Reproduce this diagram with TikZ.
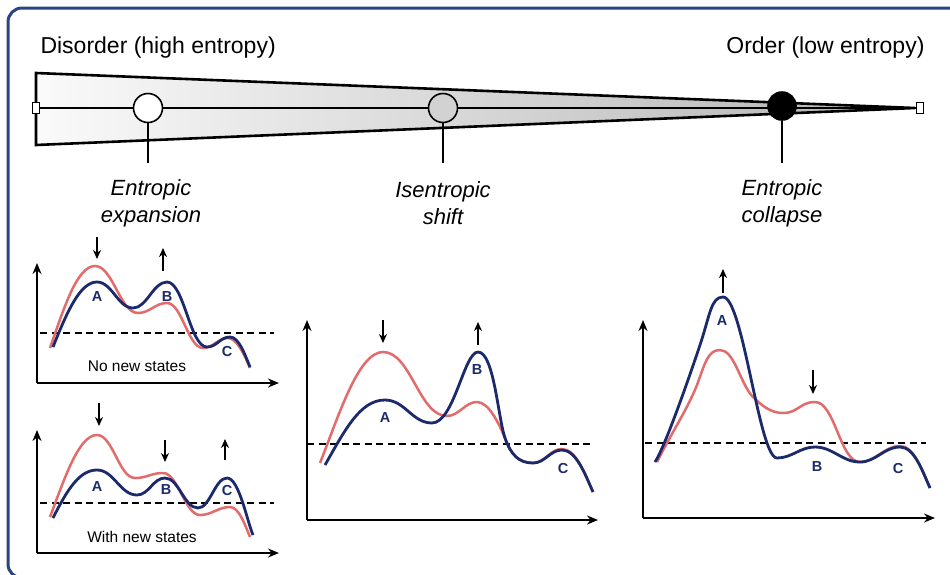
\documentclass[tikz,border=0pt]{standalone}
\usepackage{fontspec}
\setmainfont{Liberation Sans}
\usetikzlibrary{arrows.meta}
\definecolor{navy}{HTML}{1B2A6B}
\definecolor{pinkred}{HTML}{E26B6B}
\definecolor{frameblue}{HTML}{2A4580}
\begin{document}
\begin{tikzpicture}[x=1pt,y=-1pt,
  axisline/.style={line width=2.2pt,-{Stealth[length=11pt,width=9pt]}},
  thr/.style={line width=2.4pt,dash pattern=on 7pt off 4.5pt},
  redc/.style={pinkred,line width=2.5pt},
  bluec/.style={navy,line width=2.8pt},
  smallarrow/.style={line width=1.9pt,-{Stealth[length=9pt,width=8pt]}},
  peaklab/.style={navy,font=\fontsize{14.5}{16}\selectfont\bfseries},
  caption/.style={font=\fontsize{15.5}{18}\selectfont},
  stage/.style={font=\fontsize{22}{27}\selectfont\itshape,align=center},
  title/.style={font=\fontsize{23}{27}\selectfont},
  endsq/.style={draw,fill=white,line width=1pt,minimum width=7pt,minimum height=11pt,inner sep=0pt},
  ball/.style={circle,draw,line width=1.6pt,minimum size=29pt,inner sep=0pt}]
\useasboundingbox (0,0) rectangle (950,574);
\fill[white] (0,0) rectangle (950,574);
\draw[frameblue,line width=3pt,rounded corners=14pt] (8,8) rectangle (1000,578);

% titles
\node[title,anchor=west] (dis) at (37,48) {Disorder (high entropy)};
\node[title,anchor=east] (ord) at (928,48) {Order (low entropy)};

% wedge
\shade[left color=gray!4,right color=gray!60] (36,73) -- (915,108) -- (36,145) -- cycle;
\draw[line width=2.6pt,line join=miter] (36,73) -- (915,108) -- (36,145) -- cycle;
\node[endsq] (sqL) at (36,108) {};
\node[endsq] (sqR) at (920,108) {};
\draw[line width=1.6pt] (sqL) -- (sqR);
\node[ball,fill=white] (c1) at (148,108) {};
\node[ball,fill=gray!35] (c2) at (443,108) {};
\node[ball,fill=black,minimum size=28pt] (c3) at (782,106) {};
\coordinate (l1) at (148,163);
\coordinate (l2) at (443,163);
\coordinate (l3) at (782,163);
\draw[line width=1.6pt] (c1) -- (l1);
\draw[line width=1.6pt] (c2) -- (l2);
\draw[line width=1.6pt] (c3) -- (l3);
\node[stage] (s1) at (151,203) {Entropic\\expansion};
\node[stage] (s2) at (443,203) {Isentropic\\shift};
\node[stage] (s3) at (782,203) {Entropic\\collapse};

% ---------- plot 1 ----------
\coordinate (o1) at (37,383); \coordinate (y1) at (37,263); \coordinate (x1) at (279,383);
\draw[axisline] (o1) -- (y1);
\draw[axisline] (o1) -- (x1);
\coordinate (d1a) at (40,333); \coordinate (d1b) at (274,333);
\draw[thr] (d1a) -- (d1b);
\draw[redc] (50,348) .. controls +(14,-40) and +(-18,0) .. (95,266)
  .. controls +(18,0) and +(-18,0) .. (138,313)
  .. controls +(12,0) and +(-12,0) .. (167,303)
  .. controls +(15,0) and +(-15,0) .. (203,348)
  .. controls +(10,0) and +(-10,0) .. (228,338)
  .. controls +(9,0) and +(-5,-12) .. (250,368);
\draw[bluec] (53,347) .. controls +(14,-35) and +(-17,0) .. (97,282)
  .. controls +(15,0) and +(-15,0) .. (133,308)
  .. controls +(14,0) and +(-14,0) .. (167,282)
  .. controls +(17,0) and +(-17,0) .. (207,347)
  .. controls +(10,0) and +(-10,0) .. (230,337)
  .. controls +(9,0) and +(-5,-12) .. (250,367);
\node[peaklab] (p1A) at (97,297) {A};
\node[peaklab] (p1B) at (167,297) {B};
\node[peaklab] (p1C) at (227,351) {C};
\node[caption] (cap1) at (137,366) {No new states};
\coordinate (a1s) at (97,237); \coordinate (a1e) at (97,259);
\draw[smallarrow] (a1s) -- (a1e);
\coordinate (b1s) at (163,271); \coordinate (b1e) at (163,248);
\draw[smallarrow] (b1s) -- (b1e);

% ---------- plot 2 ----------
\coordinate (o2) at (37,553); \coordinate (y2) at (37,430); \coordinate (x2) at (279,553);
\draw[axisline] (o2) -- (y2);
\draw[axisline] (o2) -- (x2);
\coordinate (d2a) at (40,503); \coordinate (d2b) at (274,503);
\draw[thr] (d2a) -- (d2b);
\draw[redc] (50,517) .. controls +(15,-40) and +(-18,0) .. (97,435)
  .. controls +(16,0) and +(-16,0) .. (135,478)
  .. controls +(12,0) and +(-12,0) .. (163,473)
  .. controls +(15,0) and +(-15,0) .. (200,515)
  .. controls +(12,0) and +(-12,0) .. (230,507)
  .. controls +(9,0) and +(-5,-12) .. (250,537);
\draw[bluec] (53,518) .. controls +(15,-30) and +(-17,0) .. (97,470)
  .. controls +(17,0) and +(-17,0) .. (137,495)
  .. controls +(12,0) and +(-12,0) .. (165,478)
  .. controls +(14,0) and +(-14,0) .. (198,508)
  .. controls +(12,0) and +(-12,0) .. (227,478)
  .. controls +(12,0) and +(-6,-14) .. (253,535);
\node[peaklab] (p2A) at (97,487) {A};
\node[peaklab] (p2B) at (166,490) {B};
\node[peaklab] (p2C) at (227,490) {C};
\node[caption] (cap2) at (142,537) {With new states};
\coordinate (a2s) at (99,403); \coordinate (a2e) at (99,426);
\draw[smallarrow] (a2s) -- (a2e);
\coordinate (b2s) at (165,440); \coordinate (b2e) at (165,462);
\draw[smallarrow] (b2s) -- (b2e);
\coordinate (c2s) at (225,460); \coordinate (c2e) at (225,439);
\draw[smallarrow] (c2s) -- (c2e);

% ---------- plot 3 ----------
\coordinate (o3) at (307,520); \coordinate (y3) at (307,320); \coordinate (x3) at (598,520);
\draw[axisline] (o3) -- (y3);
\draw[axisline] (o3) -- (x3);
\coordinate (d3a) at (307,444); \coordinate (d3b) at (590,444);
\draw[thr] (d3a) -- (d3b);
\draw[redc] (320,463) .. controls +(18,-45) and +(-25,0) .. (383,352)
  .. controls +(28,0) and +(-28,0) .. (447,416)
  .. controls +(12,0) and +(-12,0) .. (477,402)
  .. controls +(12,0) and +(-6,-14) .. (505,438)
  .. controls +(6,17) and +(-14,0) .. (533,463)
  .. controls +(12,0) and +(-12,0) .. (562,449)
  .. controls +(14,0) and +(-8,-18) .. (593,492);
\draw[bluec] (325,465) .. controls +(20,-35) and +(-25,0) .. (385,400)
  .. controls +(20,0) and +(-20,0) .. (432,423)
  .. controls +(22,0) and +(-14,0) .. (478,352)
  .. controls +(16,0) and +(-7,-20) .. (505,438)
  .. controls +(6,17) and +(-14,0) .. (533,463)
  .. controls +(12,0) and +(-12,0) .. (562,450)
  .. controls +(14,0) and +(-8,-18) .. (593,492);
\node[peaklab] (p3A) at (385,418) {A};
\node[peaklab] (p3B) at (477,370) {B};
\node[peaklab] (p3C) at (563,468) {C};
\coordinate (a3s) at (383,320); \coordinate (a3e) at (383,343);
\draw[smallarrow] (a3s) -- (a3e);
\coordinate (b3s) at (478,345); \coordinate (b3e) at (478,322);
\draw[smallarrow] (b3s) -- (b3e);

% ---------- plot 4 ----------
\coordinate (o4) at (643,518); \coordinate (y4) at (643,320); \coordinate (x4) at (935,518);
\draw[axisline] (o4) -- (y4);
\draw[axisline] (o4) -- (x4);
\coordinate (d4a) at (645,443); \coordinate (d4b) at (926,443);
\draw[thr] (d4a) -- (d4b);
\draw[redc] (657,462) .. controls +(15,-30) and +(-10,25) .. (697,385)
  .. controls +(8,-22) and +(-12,0) .. (720,350)
  .. controls +(14,0) and +(-12,-14) .. (752,396)
  .. controls +(10,10) and +(-12,0) .. (783,413)
  .. controls +(15,0) and +(-15,0) .. (815,402)
  .. controls +(20,0) and +(-20,0) .. (860,462)
  .. controls +(16,0) and +(-16,0) .. (900,446)
  .. controls +(14,0) and +(-8,-18) .. (930,488);
\draw[bluec] (655,462) .. controls +(10,-15) and +(-10,30) .. (700,345)
  .. controls +(10,-30) and +(-12,0) .. (723,297)
  .. controls +(20,0) and +(-18,0) .. (777,458)
  .. controls +(15,0) and +(-15,0) .. (815,447)
  .. controls +(18,0) and +(-18,0) .. (860,462)
  .. controls +(16,0) and +(-16,0) .. (900,447)
  .. controls +(14,0) and +(-8,-18) .. (930,488);
\node[peaklab] (p4A) at (722,321) {A};
\node[peaklab] (p4B) at (817,467) {B};
\node[peaklab] (p4C) at (898,468) {C};
\coordinate (a4s) at (723,293); \coordinate (a4e) at (723,269);
\draw[smallarrow] (a4s) -- (a4e);
\coordinate (b4s) at (813,370); \coordinate (b4e) at (813,394);
\draw[smallarrow] (b4s) -- (b4e);
\end{tikzpicture}
\end{document}
